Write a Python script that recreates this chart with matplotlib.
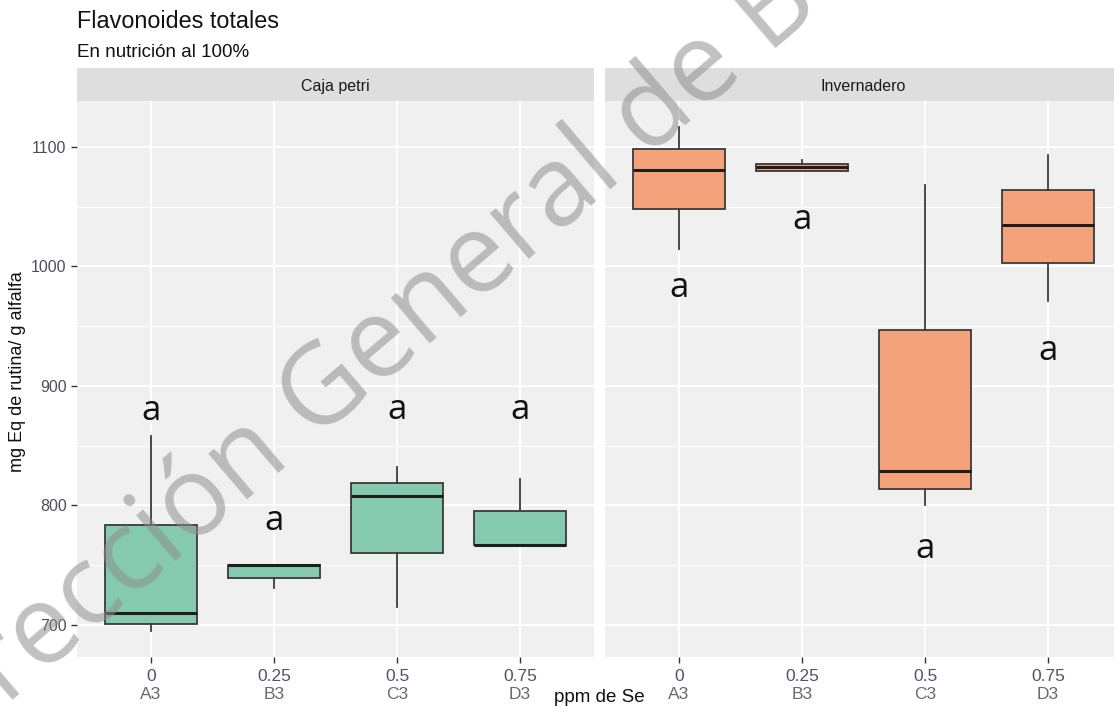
import matplotlib
matplotlib.use("Agg")
import matplotlib.pyplot as plt
from matplotlib.ticker import FixedLocator, MultipleLocator

# ---------------------------------------------------------------- data
facets = ["Caja petri", "Invernadero"]
groups = ["A3", "B3", "C3", "D3"]
doses = ["0", "0.25", "0.5", "0.75"]

# five-number summaries (mg Eq rutina / g alfalfa)
petri_low = [695, 731, 715, 767]
petri_q1 = [701, 739, 760, 767]
petri_med = [710, 750, 808, 767]
petri_q3 = [784, 750, 819, 795]
petri_high = [858, 750, 832, 822]

inv_low = [1015, 1080, 800, 971]
inv_q1 = [1048, 1080, 814, 1003]
inv_med = [1081, 1083, 829, 1035]
inv_q3 = [1098, 1086, 947, 1064]
inv_high = [1117, 1089, 1068, 1093]

# significance letters and their heights
petri_letters = ["a", "a", "a", "a"]
petri_letter_y = [879, 787, 880, 880]
inv_letters = ["a", "a", "a", "a"]
inv_letter_y = [982, 1039, 764, 929]

y_major = [700, 800, 900, 1000, 1100]

# ---------------------------------------------------------------- style
W, H, DPI = 1114, 713, 100
PANEL_BG = "#F0F0F0"
STRIP_BG = "#DEDEDE"
FILLS = ["#86C9B1", "#F4A27C"]
BASE = "Liberation Sans"

fig = plt.figure(figsize=(W / DPI, H / DPI), dpi=DPI)
fig.patch.set_facecolor("white")


def fx(px):
    return px / W


def fy(py):
    return 1 - py / H


panel_left = [77, 605]
panel_w = 517
panel_top, panel_bot = 101, 657
strip_top = 68

series = [
    (petri_low, petri_q1, petri_med, petri_q3, petri_high, petri_letters, petri_letter_y),
    (inv_low, inv_q1, inv_med, inv_q3, inv_high, inv_letters, inv_letter_y),
]

positions = list(range(len(groups)))

for i, (facet, data) in enumerate(zip(facets, series)):
    lo, q1, med, q3, hi, letters, ly = data
    ax = fig.add_axes([fx(panel_left[i]), fy(panel_bot),
                       fx(panel_w), (panel_bot - panel_top) / H])
    ax.set_facecolor(PANEL_BG)
    for s in ax.spines.values():
        s.set_visible(False)

    stats = [dict(whislo=lo[k], q1=q1[k], med=med[k], q3=q3[k], whishi=hi[k],
                  label=groups[k]) for k in positions]
    ax.bxp(stats, positions=positions, widths=0.75, showfliers=False,
           showcaps=False, patch_artist=True,
           boxprops=dict(facecolor=FILLS[i], edgecolor="#3A3A3A", linewidth=1.3),
           whiskerprops=dict(color="#3A3A3A", linewidth=1.3),
           medianprops=dict(color="#1E1E1E", linewidth=2.2),
           zorder=3)

    for k in positions:
        ax.text(positions[k], ly[k], letters[k], fontsize=25, family="Open Sans",
                ha="center", va="center", color="#111111", zorder=4)

    ax.set_xlim(-0.6, len(groups) - 0.4)
    ax.set_ylim(673.2, 1138.5)
    ax.yaxis.set_major_locator(FixedLocator(y_major))
    ax.yaxis.set_minor_locator(MultipleLocator(50))
    ax.xaxis.set_major_locator(FixedLocator(positions))
    ax.set_axisbelow(True)
    ax.grid(which="major", color="white", linewidth=1.5)
    ax.grid(which="minor", axis="y", color="white", linewidth=0.8)
    ax.tick_params(which="minor", length=0)
    ax.tick_params(axis="x", length=4.5, width=1.0, color="#333333", pad=4)
    ax.set_xticklabels(doses, family=["Liberation Sans Narrow", BASE],
                       fontsize=12.5, color="#5A4E6E")
    for k in positions:
        ax.annotate(groups[k], xy=(positions[k], 0), xycoords=("data", "axes fraction"),
                    xytext=(0, -21.5), textcoords="offset points", ha="center", va="top",
                    fontsize=12.5, family=["Liberation Sans Narrow", BASE],
                    color="#6A6A6A", annotation_clip=False)
    if i == 0:
        ax.tick_params(axis="y", length=4.5, width=1.0, color="#333333", pad=3,
                       labelsize=11.5, labelcolor="#4D4D60")
        ax.set_yticklabels([str(v) for v in y_major], family=BASE)
    else:
        ax.tick_params(axis="y", length=0, labelleft=False)

    sax = fig.add_axes([fx(panel_left[i]), fy(panel_top),
                        fx(panel_w), (panel_top - strip_top) / H])
    sax.set_facecolor(STRIP_BG)
    sax.set_xticks([])
    sax.set_yticks([])
    for s in sax.spines.values():
        s.set_visible(False)
    sax.text(0.5, 0.45, facet, transform=sax.transAxes, ha="center", va="center",
             fontsize=11.5, family=BASE, color="#1A1A1A")

# titles and axis labels
fig.text(fx(77), fy(28), "Flavonoides totales", fontsize=16.8, family=BASE,
         color="#111111", ha="left", va="baseline")
fig.text(fx(77), fy(57), "En nutrición al 100%", fontsize=13.5, family=BASE,
         color="#111111", ha="left", va="baseline")
fig.text(fx(18), fy(372), "mg Eq de rutina/ g alfalfa", rotation=90, fontsize=13,
         family=BASE, color="#111111", ha="center", va="center")
fig.text(fx(599), fy(697), "ppm de Se", fontsize=13.5, family=BASE,
         color="#111111", ha="center", va="center")

# diagonal watermark
fig.text(fx(354), fy(370), "Dirección General de B", rotation=40.5, fontsize=80,
         family="Open Sans", color="#8E8E8E", alpha=0.55,
         ha="center", va="center", zorder=10)

fig.savefig("out.png", dpi=DPI)
